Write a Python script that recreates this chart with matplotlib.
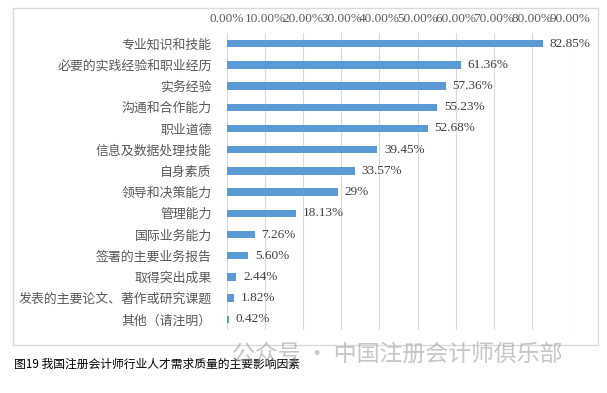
import matplotlib.pyplot as plt
from matplotlib.patches import Rectangle

# 各因素及占比（自上而下）
factors = ['专业知识和技能', '必要的实践经验和职业经历', '实务经验', '沟通和合作能力',
           '职业道德', '信息及数据处理技能', '自身素质', '领导和决策能力', '管理能力',
           '国际业务能力', '签署的主要业务报告', '取得突出成果',
           '发表的主要论文、著作或研究课题', '其他（请注明）']
shares = [82.85, 61.36, 57.36, 55.23, 52.68, 39.45, 33.57, 29, 18.13,
          7.26, 5.60, 2.44, 1.82, 0.42]
share_labels = ['82.85%', '61.36%', '57.36%', '55.23%', '52.68%', '39.45%', '33.57%',
                '29%', '18.13%', '7.26%', '5.60%', '2.44%', '1.82%', '0.42%']
ticks = [0, 10, 20, 30, 40, 50, 60, 70, 80, 90]

cjk = ['Noto Sans CJK SC', 'DejaVu Sans']
serif = ['Liberation Serif', 'DejaVu Serif']

fig = plt.figure(figsize=(6.07, 3.93), dpi=100)

# 外框
fig.patches.append(Rectangle((13 / 607, 1 - 345 / 393), 585 / 607, 337 / 393,
                             transform=fig.transFigure, fill=False,
                             edgecolor='#D9D9D9', linewidth=1))

ax = fig.add_axes([227 / 607, 1 - 330 / 393, 343 / 607, 297 / 393])
y = list(range(len(factors)))
ax.barh(y, shares, height=0.35, color='#5B9BD5', zorder=3)
ax.set_xlim(0, 90)
ax.set_ylim(len(factors) - 0.5, -0.5)

ax.set_xticks(ticks)
ax.set_xticklabels([f'{t:.2f}%' for t in ticks], family=serif, fontsize=9.5, color='#595959')
ax.xaxis.tick_top()
ax.tick_params(axis='x', length=0, pad=6)
ax.grid(axis='x', color='#D9D9D9', linewidth=0.8, zorder=0)

ax.set_yticks(y)
ax.set_yticklabels(factors, family=cjk, fontsize=9.3, color='#595959')
ax.tick_params(axis='y', length=0, pad=11)

for s in ax.spines.values():
    s.set_visible(False)

for yi, v, lab in zip(y, shares, share_labels):
    ax.text(v + 1.8, yi, lab, va='center', ha='left', family=serif,
            fontsize=9.5, color='#404040', zorder=4)

fig.text(14 / 607, 1 - 364 / 393, '图19 我国注册会计师行业人才需求质量的主要影响因素',
         family=cjk, fontsize=8.5, color='black', va='center')
# 水印
fig.text(232 / 607, 1 - 354 / 393, '公众号 · 中国注册会计师俱乐部',
         family=cjk, fontsize=16.5, color='#A0A0A0', alpha=0.6, va='center')

fig.savefig('out.png', dpi=100)
